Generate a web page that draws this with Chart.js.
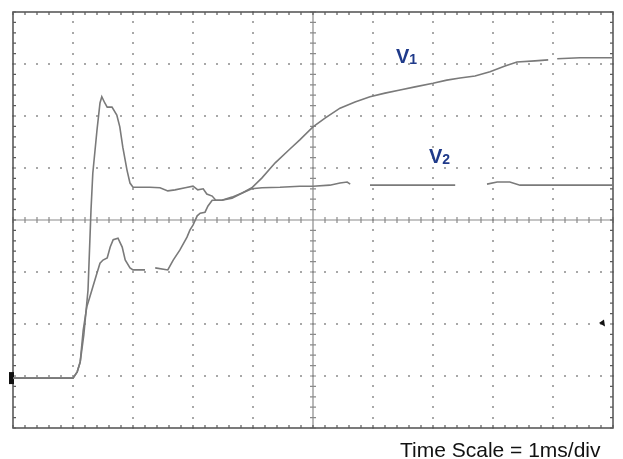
<!DOCTYPE html>
<html>
<head>
<meta charset="utf-8">
<script src="https://cdn.jsdelivr.net/npm/chart.js@4.4.1/dist/chart.umd.min.js"></script>
<style>
  html, body { margin: 0; padding: 0; background: #fff; }
  #wrap { position: relative; width: 623px; height: 459px; }
  canvas { position: absolute; left: 0; top: 0; }
  .lbl { position: absolute; font-family: "Liberation Sans", Arial, sans-serif; font-weight: bold; color: #1f3a8a; font-size: 20px; line-height: 1; white-space: nowrap; }
  .lbl sub { font-size: 14px; vertical-align: baseline; position: relative; top: 1px; }
  #cap { position: absolute; left: 400px; top: 439px; font-family: "Liberation Sans", Arial, sans-serif; font-size: 21px; color: #111; line-height: 1; white-space: nowrap; }
</style>
</head>
<body>
<div id="wrap">
  <canvas id="c" width="623" height="459"></canvas>
  <div class="lbl" style="left:396px; top:46px;">V<sub>1</sub></div>
  <div class="lbl" style="left:429px; top:146px;">V<sub>2</sub></div>
  <div id="cap">Time Scale = 1ms/div</div>
</div>
<script>
// time in ms (1 ms/div), amplitude in screen divisions
const v1Time = [0, 1.00, 1.07, 1.12, 1.17, 1.23, 1.28, 1.33, 1.40, 1.45, 1.50, 1.57, 1.62, 1.67, 1.75, 1.82, 1.87, 1.95, 2.00, 2.20, 2.28, 2.37, 2.58, 2.67, 2.78, 2.90, 2.95, 3.00, 3.07, 3.12, 3.20, 3.25, 3.32, 3.48, 3.65, 3.82, 3.98, 4.15, 4.37, 4.62, 4.78, 5.00, 5.20, 5.45, 5.70, 5.95, 6.20, 6.45, 6.70, 7.00, 7.23, 7.45, 7.70, 7.95, 8.20, 8.40, 8.70, 8.92, 9.00, 9.07, 9.45, 10.00];
const v1Vals = [0.96, 0.96, 1.08, 1.27, 1.88, 2.33, 2.52, 2.71, 2.98, 3.17, 3.23, 3.27, 3.48, 3.62, 3.65, 3.48, 3.23, 3.08, 3.04, 3.04, null, 3.08, 3.04, 3.23, 3.42, 3.67, 3.81, 3.90, 4.08, 4.13, 4.15, 4.27, 4.38, 4.38, 4.44, 4.52, 4.62, 4.81, 5.10, 5.37, 5.54, 5.79, 5.96, 6.15, 6.27, 6.37, 6.44, 6.50, 6.56, 6.63, 6.69, 6.73, 6.77, 6.85, 6.96, 7.04, 7.06, 7.08, null, 7.10, 7.12, 7.12];

const v2Time = [0, 1.00, 1.07, 1.12, 1.18, 1.25, 1.30, 1.33, 1.40, 1.45, 1.48, 1.53, 1.57, 1.65, 1.73, 1.78, 1.83, 1.90, 1.95, 2.00, 2.28, 2.45, 2.58, 2.70, 2.87, 3.00, 3.08, 3.17, 3.23, 3.32, 3.38, 3.48, 3.65, 3.82, 3.98, 4.15, 4.45, 4.78, 5.00, 5.28, 5.45, 5.57, 5.62, 5.80, 5.95, 7.37, 7.60, 7.90, 8.07, 8.28, 8.45, 10.00];
const v2Vals = [0.96, 0.96, 1.08, 1.27, 1.79, 2.65, 4.19, 4.90, 5.73, 6.25, 6.37, 6.25, 6.17, 6.17, 6.02, 5.79, 5.40, 4.96, 4.71, 4.63, 4.63, 4.62, 4.56, 4.58, 4.62, 4.65, 4.58, 4.60, 4.50, 4.46, 4.38, 4.38, 4.42, 4.52, 4.60, 4.62, 4.63, 4.65, 4.65, 4.67, 4.71, 4.73, 4.69, null, 4.67, 4.67, null, 4.69, 4.73, 4.73, 4.67, 4.67];

const xDivisions = 10;   // 1 ms/div
const yDivisions = 8;
const minorPerDiv = 5;
const groundLevel = [0.96];   // channel ground marker (left)
const triggerLevel = [2.02];  // trigger marker (right)

const toPts = (t, v) => t.map((x, i) => ({ x: x, y: v[i] }));

const scopeGrid = {
  id: 'scopeGrid',
  beforeDatasetsDraw(chart) {
    const { ctx, chartArea: a, scales: { x, y } } = chart;
    ctx.save();
    // dotted graticule
    ctx.fillStyle = '#a8a8a8';
    for (let i = 1; i < xDivisions; i++) {
      if (i === xDivisions / 2) continue;
      const px = x.getPixelForValue(i);
      for (let j = 0; j <= yDivisions * minorPerDiv; j++) {
        const py = y.getPixelForValue(j / minorPerDiv);
        ctx.fillRect(Math.round(px) - 1, Math.round(py) - 1, 2, 2);
      }
    }
    for (let i = 1; i < yDivisions; i++) {
      if (i === yDivisions / 2) continue;
      const py = y.getPixelForValue(i);
      for (let j = 0; j <= xDivisions * minorPerDiv; j++) {
        const px = x.getPixelForValue(j / minorPerDiv);
        ctx.fillRect(Math.round(px) - 1, Math.round(py) - 1, 2, 2);
      }
    }
    // centre crosshair
    ctx.strokeStyle = '#8a8a8a';
    ctx.lineWidth = 1.2;
    const cx = x.getPixelForValue(xDivisions / 2);
    const cy = y.getPixelForValue(yDivisions / 2);
    ctx.beginPath();
    ctx.moveTo(a.left, cy); ctx.lineTo(a.right, cy);
    ctx.moveTo(cx, a.top); ctx.lineTo(cx, a.bottom);
    for (let j = 0; j <= xDivisions * minorPerDiv; j++) {
      const px = x.getPixelForValue(j / minorPerDiv);
      ctx.moveTo(px, cy - 3); ctx.lineTo(px, cy + 3);
    }
    for (let j = 0; j <= yDivisions * minorPerDiv; j++) {
      const py = y.getPixelForValue(j / minorPerDiv);
      ctx.moveTo(cx - 3, py); ctx.lineTo(cx + 3, py);
    }
    ctx.stroke();
    // frame with ticks
    ctx.strokeStyle = '#5a5a5a';
    ctx.lineWidth = 1.6;
    ctx.strokeRect(a.left, a.top, a.right - a.left, a.bottom - a.top);
    ctx.lineWidth = 1.2;
    ctx.beginPath();
    for (let j = 0; j <= xDivisions * minorPerDiv; j++) {
      const px = x.getPixelForValue(j / minorPerDiv);
      ctx.moveTo(px, a.top); ctx.lineTo(px, a.top + 3);
      ctx.moveTo(px, a.bottom); ctx.lineTo(px, a.bottom - 3);
    }
    for (let j = 0; j <= yDivisions * minorPerDiv; j++) {
      const py = y.getPixelForValue(j / minorPerDiv);
      ctx.moveTo(a.left, py); ctx.lineTo(a.left + 3, py);
      ctx.moveTo(a.right, py); ctx.lineTo(a.right - 3, py);
    }
    ctx.stroke();
    // markers
    ctx.fillStyle = '#111';
    groundLevel.forEach(v => {
      const py = y.getPixelForValue(v);
      ctx.fillRect(a.left - 4, py - 6, 5, 12);
    });
    triggerLevel.forEach(v => {
      const py = y.getPixelForValue(v);
      ctx.beginPath();
      ctx.moveTo(a.right - 14, py);
      ctx.lineTo(a.right - 9, py - 3.5);
      ctx.lineTo(a.right - 8, py + 3.5);
      ctx.closePath();
      ctx.fill();
    });
    ctx.restore();
  }
};

new Chart(document.getElementById('c'), {
  type: 'line',
  data: {
    datasets: [
      { label: 'V1', data: toPts(v1Time, v1Vals), borderColor: '#7a7a7a', borderWidth: 1.6, pointRadius: 0, tension: 0, spanGaps: false },
      { label: 'V2', data: toPts(v2Time, v2Vals), borderColor: '#7a7a7a', borderWidth: 1.6, pointRadius: 0, tension: 0, spanGaps: false }
    ]
  },
  options: {
    responsive: false,
    animation: false,
    events: [],
    layout: { padding: { left: 13, right: 10, top: 12, bottom: 31 } },
    plugins: { legend: { display: false }, tooltip: { enabled: false } },
    scales: {
      x: { type: 'linear', min: 0, max: xDivisions, display: true,
           grid: { display: false, drawTicks: false }, border: { display: false },
           ticks: { display: false }, afterFit: s => { s.height = 0; } },
      y: { type: 'linear', min: 0, max: yDivisions, display: true,
           grid: { display: false, drawTicks: false }, border: { display: false },
           ticks: { display: false }, afterFit: s => { s.width = 0; } }
    }
  },
  plugins: [scopeGrid]
});
</script>
</body>
</html>
